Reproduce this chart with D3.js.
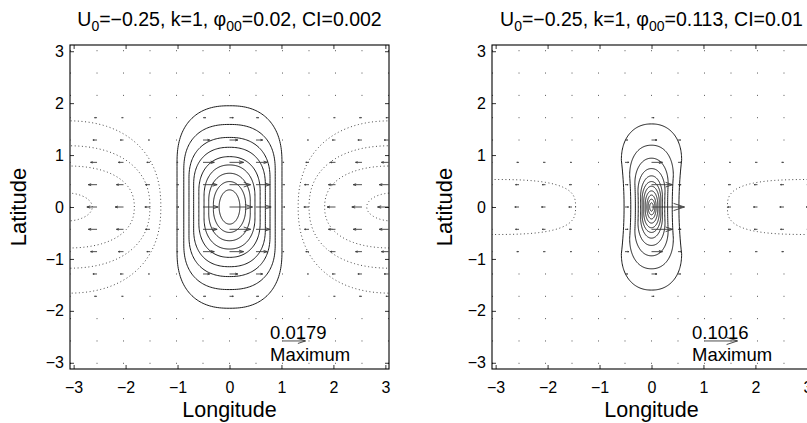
<!DOCTYPE html>
<html><head><meta charset="utf-8">
<script src="https://cdn.jsdelivr.net/npm/d3@7"></script>
<style>
body{margin:0;background:#fff}
svg{display:block}
text{font-family:"Liberation Sans",Arial,Helvetica,sans-serif;fill:#000}
</style>
</head><body>
<svg id="chart" width="807" height="423"></svg>
<script>
// ---------- data ----------
const tickValues = [-3, -2, -1, 0, 1, 2, 3];
const gridLon = [-3.06, -2.55, -2.04, -1.53, -1.02, -0.51, 0, 0.51, 1.02, 1.53, 2.04, 2.55, 3.06];
// latitudes of quiver rows, northern half (field is symmetric about the equator)
const gridLatHalf = [0, 0.43, 0.86, 1.29, 1.72, 2.15, 2.58, 3.01];

// Left panel: U0=-0.25, k=1, phi00=0.02, CI=0.002
const leftTitle = ["U", "0", "=−0.25, k=1, ", "φ", "00", "=0.02, CI=0.002"];
const leftMaxLabel = "0.0179";
const leftMax = 17.9;                     // (x1e-3)
const leftPosLevels = [2, 4, 6, 8, 10, 12, 14, 16, 18];           // x1e-3
const leftPosHalfWidth = [1.01, 0.88, 0.78, 0.69, 0.59, 0.49, 0.40, 0.31, 0.20];
const leftPosHalfHeight = [1.95, 1.59, 1.34, 1.15, 0.97, 0.81, 0.65, 0.49, 0.33];
const leftPosStraight = [0.85, 0.70, 0.55, 0.42, 0.30, 0.20, 0.12, 0.05, 0.0];  // half-length of straight sides
const leftPosCap = [2.4, 2.4, 2.3, 2.3, 2.2, 2.2, 2.1, 2.0, 2.0];
const leftNegLevels = [-2, -4, -6, -8];
const leftNegReach = [1.82, 1.61, 1.31, 0.50];     // distance from +-pi to the vertex
const leftNegHalfHeight = [1.66, 1.18, 0.79, 0.27];
const leftNegCap = [2.3, 2.3, 2.3, 2.0];
// zonal wind u (x1e-3) at gridLon for each row of gridLatHalf
const leftU = [
  [-8.5, -7.9, -6.5, -4.0, 1.9, 11.8, 17.9, 11.8, 1.9, -4.0, -6.5, -7.9, -8.5],
  [-7.2, -6.8, -5.5, -3.5, 1.6, 11.0, 16.5, 11.0, 1.6, -3.5, -5.5, -6.8, -7.2],
  [-5.5, -5.0, -4.0, -2.5, 1.2, 8.8, 11.0, 8.8, 1.2, -2.5, -4.0, -5.0, -5.5],
  [-3.4, -3.2, -2.5, -1.2, 0.5, 5.2, 6.5, 5.2, 0.5, -1.2, -2.5, -3.2, -3.4],
  [-2.0, -1.9, -1.4, -0.5, 0.1, 2.0, 3.0, 2.0, 0.1, -0.5, -1.4, -1.9, -2.0],
  [-1.0, -0.9, -0.7, -0.3, 0.0, 0.6, 1.0, 0.6, 0.0, -0.3, -0.7, -0.9, -1.0],
  [-0.4, -0.4, -0.3, -0.1, 0.0, 0.2, 0.3, 0.2, 0.0, -0.1, -0.3, -0.4, -0.4],
  [-0.1, -0.1, -0.1, 0.0, 0.0, 0.1, 0.1, 0.1, 0.0, 0.0, -0.1, -0.1, -0.1]
];

// Right panel: U0=-0.25, k=1, phi00=0.113, CI=0.01
const rightTitle = ["U", "0", "=−0.25, k=1, ", "φ", "00", "=0.113, CI=0.01"];
const rightMaxLabel = "0.1016";
const rightMax = 101.6;                   // (x1e-3)
const rightPosLevels = [10, 20, 30, 40, 50, 60, 70, 80, 90, 100, 110];
const rightPosHalfWidth = [0.58, 0.42, 0.32, 0.26, 0.21, 0.18, 0.15, 0.12, 0.09, 0.065, 0.035];
const rightPosHalfHeight = [1.60, 1.19, 0.94, 0.74, 0.60, 0.49, 0.40, 0.31, 0.23, 0.15, 0.08];
const rightPosStraight = [0.90, 0.60, 0.45, 0.30, 0.20, 0.15, 0.10, 0.05, 0.0, 0.0, 0.0];
const rightPosCap = [2.2, 2.2, 2.1, 2.1, 2.0, 2.0, 2.0, 2.0, 2.0, 2.0, 2.0];
const rightPosWaist = [0.09, 0.05, 0.03, 0.02, 0, 0, 0, 0, 0, 0, 0];
const rightNegLevels = [-10];
const rightNegReach = [1.68];
const rightNegHalfHeight = [0.53];
const rightNegCap = [3.0];
const rightU = [
  [-13.2, -13.0, -12.5, -10.0, -0.5, 11.0, 101.6, 11.0, -0.5, -10.0, -12.5, -13.0, -13.2],
  [-11.0, -10.8, -10.2, -8.0, -0.5, 9.5, 65.0, 9.5, -0.5, -8.0, -10.2, -10.8, -11.0],
  [-7.0, -6.8, -6.2, -5.0, -0.3, 12.0, 34.0, 12.0, -0.3, -5.0, -6.2, -6.8, -7.0],
  [-4.0, -3.8, -3.5, -2.8, -0.2, 8.0, 17.0, 8.0, -0.2, -2.8, -3.5, -3.8, -4.0],
  [-2.0, -1.9, -1.7, -1.4, 0.0, 4.0, 8.0, 4.0, 0.0, -1.4, -1.7, -1.9, -2.0],
  [-1.0, -1.0, -0.9, -0.7, 0.0, 2.0, 3.0, 2.0, 0.0, -0.7, -0.9, -1.0, -1.0],
  [-0.4, -0.4, -0.3, -0.2, 0.0, 0.8, 1.2, 0.8, 0.0, -0.2, -0.3, -0.4, -0.4],
  [-0.1, -0.1, -0.1, 0.0, 0.0, 0.2, 0.3, 0.2, 0.0, 0.0, -0.1, -0.1, -0.1]
];
const legendLon = 1.02, legendLat = -2.58;

// ---------- drawing ----------
const svg = d3.select("#chart");
const FONT = '"Liberation Sans",Arial,Helvetica,sans-serif';
const fmt = d => d < 0 ? "−" + Math.abs(d) : String(d);

// closed contour outline: straight (slightly pinched) sides of half-length h, rounded caps up to b
function capsule(cx, a, b, h, m, w) {
  const pts = [];
  const side = (sgn) => {
    const K = 24;
    for (let k = 0; k <= K; k++) {
      const yy = sgn * (-h + 2 * h * k / K);
      const r = h > 0 ? yy / h : 0;
      pts.push([cx + sgn * a * (1 - (w || 0) * (1 - r * r)), yy]);
    }
  };
  const cap = (sgn) => {
    const N = 90;
    for (let i = 1; i < N; i++) {
      const t = i / N * Math.PI;
      const c = Math.cos(t), s = Math.sin(t);
      const ux = Math.sign(c) * Math.pow(Math.abs(c), 2 / m);
      const uy = Math.pow(Math.abs(s), 2 / m);
      pts.push([cx + sgn * a * ux, sgn * (h + (b - h) * uy)]);
    }
  };
  if (h > 0) side(1); else pts.push([cx + a, 0]);
  cap(1);
  if (h > 0) side(-1); else pts.push([cx - a, 0]);
  cap(-1);
  return pts;
}

function drawPanel(cfg, idx) {
  const x = d3.scaleLinear().domain([-3.07, 3.07]).range([cfg.left, cfg.left + 319]);
  const y = d3.scaleLinear().domain([-3.12, 3.12]).range([369, 45]);
  const g = svg.append("g");
  const clipId = "clip" + idx;
  svg.append("clipPath").attr("id", clipId).append("rect")
    .attr("x", x.range()[0]).attr("y", y.range()[1])
    .attr("width", x.range()[1] - x.range()[0]).attr("height", y.range()[0] - y.range()[1]);
  const plot = g.append("g").attr("clip-path", `url(#${clipId})`);
  const line = d3.line().x(d => x(d[0])).y(d => y(d[1])).curve(d3.curveLinearClosed);

  // positive contours (solid)
  cfg.posLevels.forEach((lv, i) => {
    plot.append("path")
      .attr("d", line(capsule(0, cfg.posA[i], cfg.posB[i], cfg.posH[i], cfg.posM[i], cfg.posW ? cfg.posW[i] : 0)))
      .attr("fill", "none").attr("stroke", "#111").attr("stroke-width", 0.95);
  });
  // negative contours (dotted), centred on +-pi
  cfg.negLevels.forEach((lv, i) => {
    [-Math.PI, Math.PI].forEach(cx => {
      plot.append("path")
        .attr("d", line(capsule(cx, cfg.negA[i], cfg.negB[i], 0, cfg.negM[i], 0)))
        .attr("fill", "none").attr("stroke", "#333").attr("stroke-width", 0.9)
        .attr("stroke-dasharray", "1,2.6");
    });
  });

  // quiver
  const scale = cfg.arrowPx / cfg.maxU;
  const arrows = [];
  cfg.u.forEach((row, j) => {
    const lat = gridLatHalf[j];
    const lats = lat === 0 ? [0] : [lat, -lat];
    lats.forEach(la => row.forEach((u, i) => arrows.push({lon: gridLon[i], lat: la, u})));
  });
  arrows.push({lon: legendLon, lat: legendLat, u: cfg.maxU, legend: true});
  const qg = plot.append("g").attr("stroke", "#3a3a3a").attr("fill", "#3a3a3a").attr("stroke-width", 0.9);
  arrows.forEach(a => {
    const x0 = x(a.lon), y0 = y(a.lat);
    const len = a.u * scale;
    if (Math.abs(len) < 1.3) {
      qg.append("rect").attr("x", x0 - 0.5).attr("y", y0 - 0.5).attr("width", 1).attr("height", 1)
        .attr("stroke", "none").attr("fill", "#555");
      return;
    }
    const x1 = x0 + len;
    const hl = 0.33 * len, hw = 0.33 * 0.33 * Math.abs(len);
    qg.append("path")
      .attr("d", `M${x0},${y0}L${x1},${y0}M${x1 - hl},${y0 - hw}L${x1},${y0}L${x1 - hl},${y0 + hw}`)
      .attr("fill", "none");
  });

  // legend text
  g.append("text").attr("x", x(0.78)).attr("y", y(-2.55)).attr("font-size", 18.5).text(cfg.maxLabel);
  g.append("text").attr("x", x(0.78)).attr("y", y(-2.97)).attr("font-size", 18.5).text("Maximum");

  // axes
  const mk = (ax) => ax.tickValues(tickValues).tickSizeInner(-4).tickSizeOuter(0);
  const ab = g.append("g").attr("transform", `translate(0,${y.range()[0]})`)
    .call(mk(d3.axisBottom(x)).tickPadding(13).tickFormat(fmt));
  const at = g.append("g").attr("transform", `translate(0,${y.range()[1]})`)
    .call(mk(d3.axisTop(x)).tickFormat(""));
  const al = g.append("g").attr("transform", `translate(${x.range()[0]},0)`)
    .call(mk(d3.axisLeft(y)).tickPadding(6).tickFormat(fmt));
  const ar = g.append("g").attr("transform", `translate(${x.range()[1]},0)`)
    .call(mk(d3.axisRight(y)).tickFormat(""));
  [ab, at, al, ar].forEach(a => {
    a.select(".domain").remove();
    a.selectAll("line").attr("stroke", "#000").attr("stroke-width", 0.8);
    a.selectAll("text").attr("font-family", FONT).attr("font-size", 16).attr("fill", "#000");
  });
  g.append("rect").attr("x", x.range()[0]).attr("y", y.range()[1])
    .attr("width", x.range()[1] - x.range()[0]).attr("height", y.range()[0] - y.range()[1])
    .attr("fill", "none").attr("stroke", "#000").attr("stroke-width", 1.1);

  // labels
  const cxm = (x.range()[0] + x.range()[1]) / 2;
  g.append("text").attr("x", cxm).attr("y", 416.5).attr("text-anchor", "middle")
    .attr("font-size", 21.5).text("Longitude");
  g.append("text").attr("transform", `translate(${x.range()[0] - cfg.ylabOff},207) rotate(-90)`)
    .attr("text-anchor", "middle").attr("font-size", 22).text("Latitude");
  const t = g.append("text").attr("x", cxm).attr("y", 26).attr("text-anchor", "middle").attr("font-size", 19.5);
  const tp = cfg.title;
  t.append("tspan").text(tp[0]);
  t.append("tspan").attr("font-size", 14).attr("dy", 5).text(tp[1]);
  t.append("tspan").attr("dy", -5).text(tp[2]);
  t.append("tspan").text(tp[3]);
  t.append("tspan").attr("font-size", 14).attr("dy", 5).text(tp[4]);
  t.append("tspan").attr("dy", -5).text(tp[5]);
}

drawPanel({
  left: 70, ylabOff: 44, title: leftTitle, maxLabel: leftMaxLabel, maxU: leftMax, arrowPx: 23,
  posLevels: leftPosLevels, posA: leftPosHalfWidth, posB: leftPosHalfHeight, posH: leftPosStraight, posM: leftPosCap,
  negLevels: leftNegLevels, negA: leftNegReach, negB: leftNegHalfHeight, negM: leftNegCap,
  u: leftU
}, 0);
drawPanel({
  left: 492, ylabOff: 40, title: rightTitle, maxLabel: rightMaxLabel, maxU: rightMax, arrowPx: 33,
  posLevels: rightPosLevels, posA: rightPosHalfWidth, posB: rightPosHalfHeight, posH: rightPosStraight, posM: rightPosCap, posW: rightPosWaist,
  negLevels: rightNegLevels, negA: rightNegReach, negB: rightNegHalfHeight, negM: rightNegCap,
  u: rightU
}, 1);
</script>
</body></html>
